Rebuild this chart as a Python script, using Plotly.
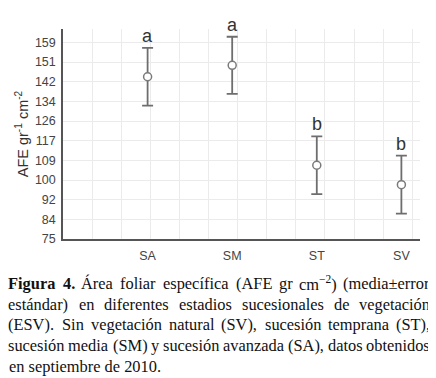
import plotly.graph_objects as go
import numpy as np
import re

# ---- data ----
categories = ["SA", "SM", "ST", "SV"]
means = [144.3, 149.2, 106.5, 98.2]
errors = [12.3, 12.2, 12.3, 12.4]
letters = ["a", "a", "b", "b"]
y_tick_labels = ["75", "84", "92", "100", "109", "117", "126", "134", "142", "151", "159"]

caption_lines = [
    ["<b>Figura</b>", "<b>4.</b>", "Área", "foliar", "específica", "(AFE", "gr",
     "cm<sup>−2</sup>)", "(media±error"],
    ["estándar)", "en", "diferentes", "estadios", "sucesionales", "de", "vegetación"],
    ["(ESV).", "Sin", "vegetación", "natural", "(SV),", "sucesión", "temprana", "(ST),"],
    ["sucesión", "media", "(SM)", "y", "sucesión", "avanzada", "(SA),", "datos", "obtenidos"],
    ["en septiembre de 2010."],
]

# ---- geometry (page body has an 8px margin) ----
OFF = 8
W, H = 436 - OFF, 378 - OFF
L, R, T, B = 63 - OFF, 16, 29 - OFF, 139
PW, PH = W - L - R, H - T - B

x_pos = list(range(1, len(categories) + 1))
y_tickvals = list(np.linspace(75, 159, len(y_tick_labels)))

fig = go.Figure()
fig.add_trace(go.Scatter(
    x=x_pos, y=means, mode="markers",
    marker=dict(symbol="circle", size=8, color="white",
                line=dict(color="#7a7a7a", width=1.5)),
    error_y=dict(type="data", array=errors, visible=True,
                 color="#6e6e6e", thickness=1.8, width=5.5),
    showlegend=False, hoverinfo="skip",
))

annotations = []
for xi, m, e, lt in zip(x_pos, means, errors, letters):
    annotations.append(dict(
        x=xi, y=m + e, xref="x", yref="y", text=lt, showarrow=False,
        xanchor="center", yanchor="bottom", yshift=0,
        font=dict(family="Liberation Sans, Arial", size=18, color="#333333"),
    ))

# ---- caption (justified, word by word) ----
TIMES = {
    ' ': 250, '(': 333, ')': 333, ',': 250, '-': 333, '.': 250, ':': 278,
    'A': 722, 'B': 667, 'C': 667, 'D': 722, 'E': 611, 'F': 556, 'G': 722, 'H': 722,
    'I': 333, 'J': 389, 'K': 722, 'L': 611, 'M': 889, 'N': 722, 'O': 722, 'P': 556,
    'Q': 722, 'R': 667, 'S': 556, 'T': 611, 'U': 722, 'V': 722, 'W': 944, 'X': 722,
    'Y': 722, 'Z': 611,
    'a': 444, 'b': 500, 'c': 444, 'd': 500, 'e': 444, 'f': 333, 'g': 500, 'h': 500,
    'i': 278, 'j': 278, 'k': 500, 'l': 278, 'm': 778, 'n': 500, 'o': 500, 'p': 500,
    'q': 500, 'r': 333, 's': 389, 't': 278, 'u': 500, 'v': 500, 'w': 722, 'x': 500,
    'y': 500, 'z': 444, 'á': 444, 'é': 444, 'í': 278, 'ó': 500, 'ú': 500, 'Á': 722,
    '±': 564, '−': 564,
}
TIMES_BOLD = {'F': 611, 'i': 278, 'g': 500, 'u': 556, 'r': 444, 'a': 500, '4': 500, '.': 250}
for dch in "0123456789":
    TIMES[dch] = 500


def word_width(word, size):
    total = 0.0
    bold = False
    sup = False
    for tok in re.split(r"(<[^>]+>)", word):
        if tok == "<b>":
            bold = True
        elif tok == "</b>":
            bold = False
        elif tok == "<sup>":
            sup = True
        elif tok == "</sup>":
            sup = False
        else:
            for ch in tok:
                w = (TIMES_BOLD if bold else TIMES).get(ch, 500)
                total += w * (0.7 if sup else 1.0)
    return total / 1000.0 * size


CAP_SIZE = 16.4
CAP_L, CAP_R = 0.5, 430.5 - OFF
CAP_Y0, CAP_DY = 283.5 - OFF, 20.7
cap_font = dict(family="Liberation Serif, Times New Roman", size=CAP_SIZE, color="#111111")


def px_to_paper_x(px):
    return (px - L) / PW


def px_to_paper_y(py):
    return (H - B - py) / PH


for li, words in enumerate(caption_lines):
    cy = CAP_Y0 + li * CAP_DY
    if len(words) == 1:
        annotations.append(dict(
            x=px_to_paper_x(CAP_L), y=px_to_paper_y(cy), xref="paper", yref="paper",
            text=words[0], showarrow=False, xanchor="left", yanchor="middle",
            font=cap_font, borderpad=0, borderwidth=0,
        ))
        continue
    widths = [word_width(w, CAP_SIZE) for w in words]
    gap = (CAP_R - CAP_L - sum(widths)) / (len(words) - 1)
    xcur = CAP_L
    for wi, (w, ww) in enumerate(zip(words, widths)):
        if wi == 0:
            xa, xp = "left", xcur
        elif wi == len(words) - 1:
            xa, xp = "right", CAP_R
        else:
            xa, xp = "center", xcur + ww / 2
        annotations.append(dict(
            x=px_to_paper_x(xp), y=px_to_paper_y(cy), xref="paper", yref="paper",
            text=w, showarrow=False, xanchor=xa, yanchor="middle",
            font=cap_font, borderpad=0, borderwidth=0,
        ))
        xcur += ww + gap

fig.update_layout(
    width=W, height=H,
    margin=dict(l=L, r=R, t=T, b=B, pad=0, autoexpand=False),
    paper_bgcolor="white", plot_bgcolor="white",
    annotations=annotations,
    font=dict(family="Liberation Sans, Arial", color="#333333"),
)

fig.update_xaxes(
    range=[0, 4.22], tickmode="array", tickvals=x_pos, ticktext=categories,
    showgrid=False, zeroline=False, automargin=False,
    showline=True, linecolor="#555555", linewidth=1.5,
    ticks="outside", ticklen=4, tickcolor="rgba(0,0,0,0)",
    tickfont=dict(family="Liberation Sans, Arial", size=12.5, color="#444444"),
    minor=dict(tickmode="linear", tick0=0, dtick=0.344, showgrid=True,
               gridcolor="#ebebeb", gridwidth=1.3, ticks=""),
    fixedrange=True,
)
fig.update_yaxes(
    range=[75, 164.7], tickmode="array", tickvals=y_tickvals, ticktext=y_tick_labels,
    showgrid=True, gridcolor="#ebebeb", gridwidth=1.3, zeroline=False, automargin=False,
    showline=True, linecolor="#555555", linewidth=1.5,
    ticks="outside", ticklen=3, tickcolor="rgba(0,0,0,0)",
    tickfont=dict(family="Liberation Sans, Arial", size=12.5, color="#444444"),
    title=dict(text="AFE gr<sup>-1</sup> cm<sup>-2</sup>", standoff=3,
               font=dict(family="Liberation Sans, Arial", size=14.5, color="#333333")),
    fixedrange=True,
)

fig.write_html("out.html")
